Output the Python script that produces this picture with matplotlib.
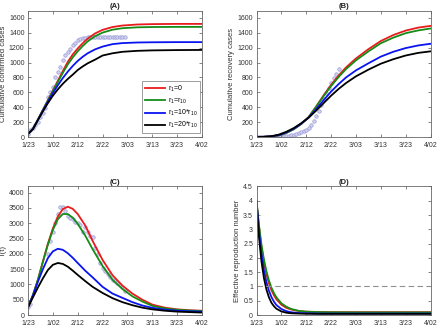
import matplotlib
matplotlib.use("Agg")
import matplotlib.pyplot as plt

# ---------------- data ----------------
tick_days = [0, 10, 20, 30, 40, 50, 60, 70]
tick_labels = ["1/23", "1/02", "2/12", "2/22", "3/03", "3/13", "3/23", "4/02"]
legend_labels = [r"r$_1$=0", r"r$_1$=r$_{10}$", r"r$_1$=10*r$_{10}$", r"r$_1$=20*r$_{10}$"]

# (A) cumulative confirmed cases
days_a = [0, 2, 4, 6, 8, 10, 12, 14, 16, 18, 20, 22, 24, 27, 30, 34, 38, 44, 50, 60, 70]
conf_red = [40, 110, 235, 365, 495, 625, 755, 885, 1010, 1110, 1190, 1260, 1322, 1392, 1440, 1478, 1498, 1512, 1517, 1520, 1520]
conf_green = [40, 110, 235, 363, 490, 615, 740, 862, 975, 1070, 1152, 1222, 1285, 1355, 1403, 1442, 1462, 1474, 1478, 1480, 1480]
conf_blue = [40, 108, 230, 355, 475, 590, 695, 792, 878, 955, 1022, 1078, 1125, 1178, 1215, 1248, 1262, 1270, 1273, 1275, 1275]
conf_black = [40, 107, 228, 345, 455, 555, 640, 715, 780, 838, 900, 948, 990, 1040, 1095, 1125, 1145, 1158, 1164, 1168, 1170]
obs_days_a = list(range(0, 40))
obs_conf = [44, 88, 120, 164, 208, 275, 320, 386, 533, 608, 666, 808, 875, 941, 1031, 1097,
            1141, 1187, 1231, 1266, 1297, 1320, 1330, 1335, 1338, 1340, 1341, 1342, 1343, 1344,
            1345, 1345, 1346, 1347, 1347, 1348, 1348, 1349, 1350, 1350]

# (B) cumulative recovery cases
days_b = [0, 3, 6, 9, 12, 15, 18, 21, 24, 27, 30, 33, 36, 40, 45, 50, 55, 60, 65, 70]
rec_red = [0, 2, 8, 22, 55, 105, 175, 270, 410, 560, 700, 825, 935, 1055, 1180, 1290, 1370, 1430, 1470, 1493]
rec_green = [0, 2, 8, 22, 55, 105, 175, 268, 405, 550, 685, 805, 912, 1030, 1150, 1260, 1335, 1395, 1432, 1458]
rec_blue = [0, 2, 9, 26, 62, 112, 180, 262, 375, 495, 610, 710, 800, 895, 990, 1080, 1145, 1195, 1230, 1253]
rec_black = [0, 3, 11, 32, 70, 120, 185, 260, 355, 455, 555, 645, 725, 815, 905, 985, 1045, 1095, 1130, 1151]
obs_days_b = list(range(0, 34))
obs_rec = [0, 0, 0, 0, 1, 2, 3, 4, 5, 7, 9, 12, 15, 20, 26, 33, 42, 52, 65, 80, 100, 125,
           160, 210, 280, 350, 430, 510, 590, 660, 730, 790, 850, 910]

# (C) T(t)
days_c = [0, 2, 4, 6, 8, 10, 12, 14, 16, 18, 20, 23, 26, 30, 34, 38, 42, 46, 50, 55, 60, 65, 70]
t_red = [250, 650, 1150, 1750, 2330, 2830, 3220, 3460, 3540, 3470, 3300, 2930, 2420, 1800, 1300, 960, 700, 500, 340, 240, 185, 155, 140]
t_green = [250, 660, 1160, 1740, 2300, 2780, 3130, 3300, 3300, 3180, 2980, 2600, 2150, 1600, 1150, 850, 610, 440, 300, 215, 170, 145, 130]
t_blue = [250, 640, 1090, 1500, 1860, 2080, 2165, 2130, 2020, 1870, 1700, 1450, 1230, 920, 700, 560, 420, 310, 235, 175, 140, 120, 110]
t_black = [250, 580, 900, 1200, 1470, 1640, 1700, 1670, 1580, 1450, 1310, 1110, 920, 720, 550, 420, 320, 240, 185, 140, 110, 95, 80]
obs_days_c = [0, 1] + list(range(8, 40))
obs_t = [250, 360, 1980, 2420, 2700, 3000, 3300, 3540, 3540, 3410, 3235, 3180, 3125, 3050,
         3015, 2950, 2720, 2885, 2720, 2580, 2560, 2200, 2010, 1705, 1540, 1440, 1350, 1250,
         1150, 1095, 1030, 985, 910, 778]

# (D) effective reproduction number
days_d = [0, 1, 2, 3, 4, 5, 6, 7, 8, 10, 12, 14, 17, 20, 25, 30, 40, 50, 60, 70]
rt_red = [4.0, 3.08, 2.37, 1.84, 1.43, 1.11, 0.87, 0.69, 0.55, 0.36, 0.25, 0.19, 0.14, 0.118, 0.105, 0.10, 0.10, 0.10, 0.10, 0.10]
rt_green = [4.0, 3.14, 2.46, 1.94, 1.53, 1.21, 0.96, 0.77, 0.62, 0.41, 0.29, 0.21, 0.145, 0.116, 0.10, 0.095, 0.09, 0.09, 0.09, 0.09]
rt_blue = [4.0, 2.92, 2.13, 1.56, 1.15, 0.85, 0.63, 0.47, 0.35, 0.21, 0.135, 0.095, 0.07, 0.06, 0.05, 0.05, 0.05, 0.05, 0.05, 0.05]
rt_black = [4.0, 2.73, 1.87, 1.29, 0.89, 0.62, 0.43, 0.31, 0.22, 0.125, 0.08, 0.06, 0.05, 0.045, 0.04, 0.04, 0.04, 0.04, 0.04, 0.04]
threshold = 1.0

# ---------------- style ----------------
colors = ["#e81c1c", "#168c16", "#0a14f0", "#000000"]
obs_style = dict(ls="none", marker="o", ms=2.5, mfc="#d2d2f0", mec="#9a9ad8", mew=0.5, zorder=1)
plt.rcParams["font.family"] = ["Liberation Sans", "DejaVu Sans"]
plt.rcParams["mathtext.fontset"] = "custom"
plt.rcParams["mathtext.rm"] = "Liberation Sans"
plt.rcParams["mathtext.it"] = "Liberation Sans"

W, H = 440, 328
fig = plt.figure(figsize=(W / 100, H / 100), dpi=100)


def px_axes(x0, x1, y0, y1):
    return fig.add_axes([x0 / W, 1 - y1 / H, (x1 - x0) / W, (y1 - y0) / H])


def style(ax, ylim, yticks, title, ylabel):
    ax.set_xlim(0, 70)
    ax.set_ylim(*ylim)
    ax.set_xticks(tick_days)
    ax.set_xticklabels(tick_labels)
    ax.set_yticks(yticks)
    ax.tick_params(direction="in", length=2, width=0.5, colors="#555555",
                   labelcolor="#333333", labelsize=5, top=True, right=True)
    ax.tick_params(axis="x", pad=3.5)
    ax.tick_params(axis="y", pad=2.5)
    for s in ax.spines.values():
        s.set_color("#666666")
        s.set_linewidth(0.6)
    ax.set_title(title, fontsize=5.5, fontweight="bold", pad=2, color="#222222")
    ax.set_ylabel(ylabel, fontsize=5.5, labelpad=1.5, color="#333333")


ax_a = px_axes(28, 202, 10.5, 137)
ax_b = px_axes(256.5, 430.5, 10.5, 137)
ax_c = px_axes(28, 202, 186.5, 315)
ax_d = px_axes(256.5, 430.5, 186.5, 315)

# (A)
ax_a.plot(obs_days_a, obs_conf, **obs_style)
for ys, c, lab in zip([conf_red, conf_green, conf_blue, conf_black], colors, legend_labels):
    ax_a.plot(days_a, ys, color=c, lw=1.3, label=lab)
style(ax_a, (0, 1700), range(0, 1601, 200), "(A)", "Cumulative confirmed cases")
leg = ax_a.legend(loc="lower right", bbox_to_anchor=(0.99, 0.03), borderaxespad=0,
                  fontsize=5, handlelength=2.9, labelspacing=0.3, handletextpad=0.4,
                  borderpad=0.4, fancybox=False, framealpha=1)
leg.get_frame().set_edgecolor("#777777")
leg.get_frame().set_linewidth(0.5)

# (B)
ax_b.plot(obs_days_b, obs_rec, **obs_style)
for ys, c in zip([rec_red, rec_green, rec_blue, rec_black], colors):
    ax_b.plot(days_b, ys, color=c, lw=1.3)
style(ax_b, (0, 1700), range(0, 1601, 200), "(B)", "Cumulative recovery cases")

# (C)
ax_c.plot(obs_days_c, obs_t, **obs_style)
for ys, c in zip([t_red, t_green, t_blue, t_black], colors):
    ax_c.plot(days_c, ys, color=c, lw=1.3)
style(ax_c, (0, 4200), range(0, 4001, 500), "(C)", "T(t)")

# (D)
for ys, c in zip([rt_red, rt_green, rt_blue, rt_black], colors):
    ax_d.plot(days_d, ys, color=c, lw=1.3)
ax_d.axhline(threshold, color="#909090", lw=0.8, ls=(0, (5, 3)))
style(ax_d, (0, 4.5), [0, 0.5, 1, 1.5, 2, 2.5, 3, 3.5, 4, 4.5], "(D)", "Effective reproduction number")
ax_d.set_yticklabels(["0", "0.5", "1", "1.5", "2", "2.5", "3", "3.5", "4", "4.5"])

fig.savefig("out.png", dpi=100, facecolor="white")
